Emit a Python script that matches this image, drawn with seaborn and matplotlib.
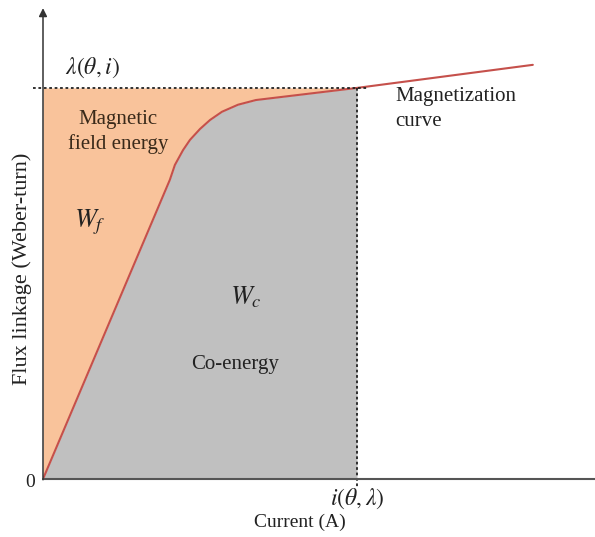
import matplotlib
matplotlib.use("Agg")
import matplotlib.pyplot as plt
import numpy as np
import pandas as pd
import seaborn as sns

# Magnetization curve: current (A) vs flux linkage (Wb-turn), arbitrary units
current = [0.0, 4.04, 4.20, 4.46, 4.68, 5.00, 5.32, 5.70, 6.21, 6.78, 10.0, 15.6]
flux = [0.0, 0.765, 0.803, 0.841, 0.867, 0.895, 0.918, 0.939, 0.957, 0.969, 1.0, 1.059]

# Operating point i(theta, lambda), lambda(theta, i)
i_op = 10.0
lam_op = 1.0

x_max = 17.58
y_max = 1.212

sns.set_style("white")
plt.rcParams["font.family"] = ["Liberation Serif", "DejaVu Serif"]
plt.rcParams["mathtext.fontset"] = "stix"

df = pd.DataFrame({"Current": current, "Flux": flux})

fig = plt.figure(figsize=(5.95, 5.37), dpi=100)
ax = fig.add_axes([43 / 595, 58 / 537, 552 / 595, 474 / 537])
ax.set_xlim(0, x_max)
ax.set_ylim(0, y_max)
for s in ax.spines.values():
    s.set_visible(False)
ax.set_xticks([])
ax.set_yticks([])

# Energy regions up to the operating point
x_fill = np.array([c for c in current if c <= i_op])
y_fill = np.interp(x_fill, current, flux)
ax.fill_between(x_fill, 0, y_fill, color="#c0c0c0", lw=0, zorder=1)
ax.fill_between(x_fill, y_fill, lam_op, color="#f9c39b", lw=0, zorder=1)

sns.lineplot(data=df, x="Current", y="Flux", ax=ax, color="#c5504b",
             lw=1.5, zorder=3, sort=False)
ax.set_xlabel("")
ax.set_ylabel("")

# Dotted guides to the operating point
ax.plot([-0.32, 10.35], [lam_op, lam_op], color="#222222", lw=1.3,
        ls=(0, (1.5, 1.5)), clip_on=False, zorder=4)
ax.plot([i_op, i_op], [lam_op, -0.023], color="#222222", lw=1.3,
        ls=(0, (1.5, 1.5)), clip_on=False, zorder=4)

# Axes with arrow on the flux axis
ax.plot([0, x_max], [0, 0], color="#555555", lw=1.5, clip_on=False, zorder=5)
ax.annotate("", xy=(0, 1.204), xytext=(0, -0.002),
            arrowprops=dict(arrowstyle="-|>", color="#333333", lw=1.1,
                            mutation_scale=12, shrinkA=0, shrinkB=0),
            annotation_clip=False, zorder=5)

tc = "#222222"
ax.text(1.59, 1.051, r"$\lambda(\theta,i)$", fontsize=17, ha="center", va="center", color=tc)
ax.text(2.39, 0.887, "Magnetic\nfield energy", fontsize=15, ha="center", va="center",
        color="#3a2a1a", linespacing=1.35)
ax.text(11.21, 0.946, "Magnetization\ncurve", fontsize=15, ha="left", va="center",
        color=tc, linespacing=1.4)
ax.text(1.5, 0.657, r"$W_f$", fontsize=19, ha="center", va="center", color=tc)
ax.text(6.45, 0.465, r"$W_c$", fontsize=19, ha="center", va="center", color=tc)
ax.text(6.11, 0.292, "Co-energy", fontsize=15, ha="center", va="center", color=tc)
ax.text(-0.41, -0.01, "0", fontsize=14, ha="center", va="center", color=tc)
ax.text(i_op, -0.05, r"$i(\theta,\lambda)$", fontsize=17, ha="center", va="center", color=tc)

fig.text(300 / 595, 1 - 522 / 537, "Current (A)", fontsize=14, ha="center", va="center", color=tc)
fig.text(22 / 595, 1 - 269 / 537, "Flux linkage (Weber-turn)", fontsize=16, ha="center",
         va="center", rotation=90, color=tc)

fig.savefig("out.png", dpi=100)
